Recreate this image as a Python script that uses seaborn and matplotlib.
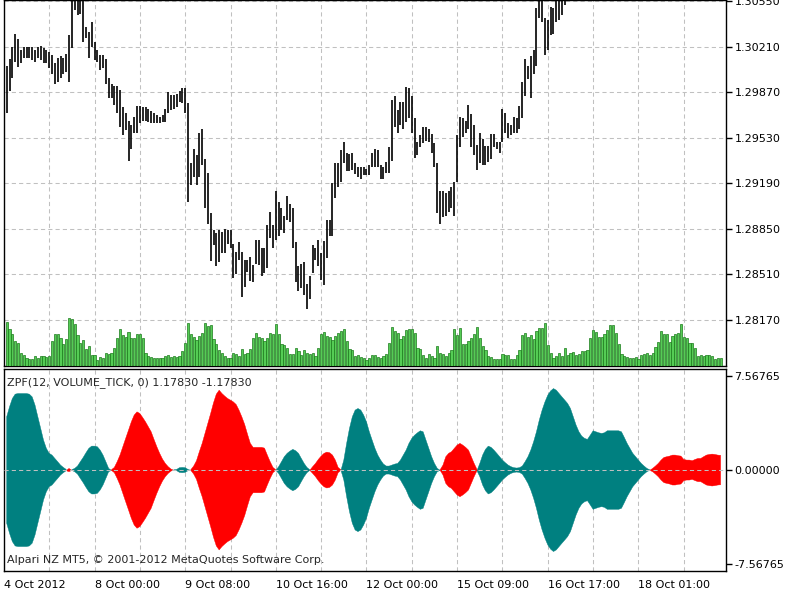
import numpy as np
import matplotlib
matplotlib.use("Agg")
import matplotlib.pyplot as plt
import seaborn as sns

nan = np.nan

# hourly bars, GBPUSD-like price (off-chart bars are nan)
high = [
    1.3007, 1.3012, 1.3021, 1.3031, 1.3027, 1.3019, 1.3021, 1.3021, 1.3021, 1.3021,
    1.3019, 1.3021, 1.3022, 1.3020, 1.3019, 1.3017, 1.3015, 1.3009, 1.3013, 1.3014,
    1.3013, 1.3016, 1.3030, 1.3062, 1.3063, 1.3060, 1.3062, 1.3059, 1.3036, 1.3032,
    1.3040, 1.3025, 1.3019, 1.3015, 1.3015, 1.3012, 1.2998, 1.2993, 1.2992, 1.2992,
    1.2989, 1.2976, 1.2972, 1.2966, 1.2963, 1.2969, 1.2977, 1.2977, 1.2976, 1.2976,
    1.2975, 1.2973, 1.2972, 1.2970, 1.2969, 1.2970, 1.2975, 1.2987, 1.2985, 1.2985,
    1.2986, 1.2988, 1.2990, 1.2990, 1.2979, 1.2934, 1.2945, 1.2940, 1.2957, 1.2960,
    1.2937, 1.2927, 1.2897, 1.2884, 1.2882, 1.2884, 1.2883, 1.2885, 1.2884, 1.2884,
    1.2874, 1.2868, 1.2875, 1.2868, 1.2862, 1.2862, 1.2864, 1.2858, 1.2877, 1.2877,
    1.2871, 1.2871, 1.2888, 1.2898, 1.2888, 1.2913, 1.2905, 1.2901, 1.2895, 1.2910,
    1.2904, 1.2901, 1.2875, 1.2857, 1.2859, 1.2860, 1.2844, 1.2850, 1.2873, 1.2871,
    1.2877, 1.2867, 1.2876, 1.2892, 1.2892, 1.2919, 1.2934, 1.2934, 1.2944, 1.2950,
    1.2942, 1.2941, 1.2942, 1.2934, 1.2931, 1.2931, 1.2931, 1.2930, 1.2933, 1.2942,
    1.2945, 1.2944, 1.2933, 1.2931, 1.2935, 1.2946, 1.2981, 1.2984, 1.2974, 1.2980,
    1.2980, 1.2991, 1.2990, 1.2984, 1.2968, 1.2950, 1.2955, 1.2961, 1.2961, 1.2960,
    1.2956, 1.2949, 1.2934, 1.2913, 1.2913, 1.2912, 1.2913, 1.2916, 1.2920, 1.2955,
    1.2969, 1.2968, 1.2966, 1.2978, 1.2971, 1.2963, 1.2948, 1.2957, 1.2952, 1.2947,
    1.2947, 1.2956, 1.2956, 1.2950, 1.2950, 1.2975, 1.2972, 1.2964, 1.2963, 1.2969,
    1.2968, 1.2977, 1.2995, 1.3012, 1.3007, 1.3014, 1.3019, 1.3050, 1.3060, 1.3058,
    1.3043, 1.3041, 1.3051, 1.3050, 1.3055, 1.3057, 1.3060, 1.3063,
] + [nan] * 44 + [1.3068] + [nan] * 10

low = [
    1.2972, 1.2988, 1.2998, 1.3010, 1.3006, 1.3009, 1.3013, 1.3013, 1.3013, 1.3011,
    1.3010, 1.3013, 1.3011, 1.3009, 1.3009, 1.3005, 1.3001, 1.2993, 1.2995, 1.2998,
    1.3001, 1.3002, 1.2995, 1.3020, 1.3049, 1.3045, 1.3046, 1.3025, 1.3028, 1.3013,
    1.3021, 1.3011, 1.3010, 1.3004, 1.3005, 1.2993, 1.2983, 1.2983, 1.2978, 1.2972,
    1.2961, 1.2955, 1.2959, 1.2936, 1.2945, 1.2957, 1.2957, 1.2964, 1.2966, 1.2966,
    1.2965, 1.2964, 1.2964, 1.2964, 1.2964, 1.2965, 1.2965, 1.2972, 1.2974, 1.2975,
    1.2976, 1.2980, 1.2979, 1.2972, 1.2905, 1.2918, 1.2924, 1.2918, 1.2924, 1.2933,
    1.2901, 1.2889, 1.2861, 1.2873, 1.2857, 1.2860, 1.2867, 1.2867, 1.2874, 1.2871,
    1.2848, 1.2851, 1.2862, 1.2834, 1.2842, 1.2853, 1.2846, 1.2845, 1.2859, 1.2858,
    1.2850, 1.2852, 1.2856, 1.2878, 1.2871, 1.2877, 1.2880, 1.2884, 1.2882, 1.2892,
    1.2890, 1.2871, 1.2845, 1.2839, 1.2841, 1.2836, 1.2825, 1.2833, 1.2852, 1.2862,
    1.2857, 1.2847, 1.2843, 1.2863, 1.2880, 1.2880, 1.2908, 1.2916, 1.2920, 1.2934,
    1.2928, 1.2928, 1.2929, 1.2926, 1.2924, 1.2922, 1.2925, 1.2925, 1.2925, 1.2931,
    1.2931, 1.2931, 1.2922, 1.2922, 1.2927, 1.2927, 1.2936, 1.2961, 1.2957, 1.2963,
    1.2960, 1.2965, 1.2968, 1.2957, 1.2938, 1.2940, 1.2946, 1.2949, 1.2951, 1.2950,
    1.2942, 1.2931, 1.2897, 1.2889, 1.2894, 1.2895, 1.2898, 1.2901, 1.2895, 1.2920,
    1.2946, 1.2954, 1.2957, 1.2960, 1.2946, 1.2940, 1.2929, 1.2934, 1.2933, 1.2933,
    1.2935, 1.2937, 1.2946, 1.2945, 1.2942, 1.2950, 1.2957, 1.2953, 1.2955, 1.2957,
    1.2957, 1.2960, 1.2968, 1.2984, 1.2997, 1.2983, 1.3001, 1.3007, 1.3043, 1.3040,
    1.3015, 1.3019, 1.3030, 1.3031, 1.3040, 1.3041, 1.3045, 1.3052,
] + [nan] * 44 + [1.3055] + [nan] * 10

volume = [
    44, 37, 32, 25, 23, 13, 11, 8, 7, 7, 10, 8, 10, 10, 9, 10, 25, 32, 32, 28,
    22, 27, 48, 47, 42, 31, 23, 26, 17, 20, 11, 11, 6, 9, 8, 13, 12, 13, 18, 28,
    37, 31, 29, 34, 28, 28, 32, 32, 28, 13, 10, 9, 8, 8, 8, 8, 10, 11, 9, 10,
    9, 10, 15, 23, 43, 32, 29, 26, 30, 33, 43, 40, 41, 27, 22, 16, 13, 10, 8, 8,
    13, 12, 10, 17, 12, 13, 17, 28, 33, 29, 28, 25, 28, 33, 32, 42, 32, 22, 21, 18,
    12, 12, 18, 15, 11, 16, 13, 12, 13, 10, 18, 32, 34, 30, 29, 26, 30, 33, 35, 37,
    25, 17, 16, 10, 11, 9, 8, 6, 8, 11, 11, 9, 8, 10, 12, 23, 39, 35, 33, 27,
    30, 36, 37, 37, 33, 18, 17, 11, 8, 12, 10, 8, 20, 13, 12, 10, 13, 16, 37, 31,
    38, 22, 22, 25, 28, 32, 39, 28, 20, 16, 10, 9, 7, 7, 7, 12, 11, 11, 7, 7,
    11, 16, 31, 33, 29, 31, 27, 35, 38, 38, 43, 21, 13, 8, 10, 13, 10, 18, 11, 13,
    14, 11, 12, 15, 15, 16, 28, 36, 34, 29, 29, 32, 36, 41, 41, 33, 22, 12, 10, 9,
    8, 8, 9, 7, 11, 12, 13, 11, 13, 19, 24, 35, 32, 32, 24, 30, 32, 33, 42, 29,
    28, 23, 23, 18, 10, 11, 10, 11, 11, 10, 7, 8, 8,
]

# ZPF(12, VOLUME_TICK): positive = teal, negative = red, drawn symmetric
zpf = [
    4.27, 5.07, 5.74, 6.09, 6.14, 6.14, 6.14, 6.14, 6.09, 5.87,
    5.21, 4.27, 3.34, 2.40, 1.74, 1.34, 1.20, 0.93, 0.67, 0.40,
    0.21, 0.05, -0.13, 0.03, 0.13, 0.32, 0.67, 1.01, 1.39, 1.74,
    1.92, 1.92, 1.87, 1.60, 1.20, 0.67, 0.13, -0.03, -0.21, -0.67,
    -1.20, -1.87, -2.54, -3.20, -3.87, -4.41, -4.67, -4.54, -4.22, -3.87,
    -3.47, -3.07, -2.46, -1.87, -1.34, -0.88, -0.53, -0.27, -0.08, 0.02,
    0.05, 0.19, 0.21, 0.19, 0.05, -0.03, -0.32, -0.75, -1.47, -2.14,
    -2.94, -3.74, -4.54, -5.39, -6.09, -6.41, -6.14, -5.93, -5.74, -5.61,
    -5.47, -5.26, -4.81, -4.27, -3.66, -2.88, -2.14, -1.82, -1.82, -1.82,
    -1.82, -1.76, -1.20, -0.67, -0.21, -0.02, 0.27, 0.67, 1.07, 1.34,
    1.52, 1.66, 1.55, 1.34, 0.93, 0.53, 0.21, 0.02, -0.27, -0.53,
    -0.85, -1.12, -1.34, -1.44, -1.39, -1.20, -0.80, -0.21, -0.02, 0.80,
    2.14, 3.34, 4.27, 4.81, 4.94, 4.81, 4.41, 3.87, 3.07, 2.40,
    1.74, 1.20, 0.80, 0.48, 0.32, 0.32, 0.40, 0.48, 0.53, 0.80,
    1.20, 1.60, 2.14, 2.54, 2.80, 2.99, 3.15, 3.07, 2.40, 1.74,
    1.07, 0.53, 0.13, -0.02, -0.40, -1.07, -1.34, -1.47, -1.74, -2.00,
    -2.14, -2.00, -1.82, -1.60, -1.07, -0.53, -0.05, 0.53, 1.20, 1.66,
    1.92, 1.82, 1.60, 1.34, 1.07, 0.80, 0.59, 0.40, 0.27, 0.19,
    0.16, 0.19, 0.32, 0.67, 1.07, 1.60, 2.27, 3.07, 4.01, 4.81,
    5.47, 6.01, 6.35, 6.54, 6.41, 6.14, 5.87, 5.61, 5.34, 4.94,
    4.27, 3.60, 3.07, 2.72, 2.54, 2.46, 2.80, 3.15, 3.07, 2.99,
    2.94, 2.99, 3.15, 3.15, 3.15, 3.15, 3.15, 3.07, 2.62, 2.14,
    1.74, 1.34, 1.07, 0.80, 0.53, 0.32, 0.13, 0.02, -0.13, -0.32,
    -0.53, -0.80, -1.01, -1.07, -1.12, -1.20, -1.20, -1.15, -1.12, -0.85,
    -0.80, -0.80, -0.75, -0.85, -0.93, -0.93, -1.07, -1.20, -1.25, -1.28,
    -1.25, -1.20, -1.18,
]

price_ticks = [1.28170, 1.28510, 1.28850, 1.29190, 1.29530, 1.29870, 1.30210, 1.30550]
zpf_ticks = [-7.56765, 0.0, 7.56765]
date_pos = [31, 63, 95, 127, 159, 191, 223]
date_labels = ["8 Oct 00:00", "9 Oct 08:00", "10 Oct 16:00", "12 Oct 00:00",
               "15 Oct 09:00", "16 Oct 17:00", "18 Oct 01:00"]
first_label = "4 Oct 2012"
zpf_title = "ZPF(12, VOLUME_TICK, 0) 1.17830 -1.17830"
copyright_text = "Alpari NZ MT5, \u00a9 2001-2012 MetaQuotes Software Corp."

sns.set_style("white")
plt.rcParams["font.family"] = ["DejaVu Sans"]
plt.rcParams["font.size"] = 8

idx = np.arange(len(zpf))
grid_x = np.arange(15, 240, 16)
grid_kw = dict(color="#c0c0c0", lw=0.75, ls=(0, (4, 3)))
teal, red = "#008080", "#ff0000"

fig = plt.figure(figsize=(8, 6), dpi=100)
ax = fig.add_axes([0.005, 0.39, 0.9025, 0.61])
vax = fig.add_axes([0.005, 0.39, 0.9025, 0.61], sharex=ax)
zax = fig.add_axes([0.005, 0.049, 0.9025, 0.336], sharex=ax)

# price panel
for gx in grid_x:
    ax.axvline(gx, zorder=0, **grid_kw)
for gy in price_ticks:
    ax.axhline(gy, zorder=0, **grid_kw)
ax.vlines(idx, low, high, color="black", lw=1.2, zorder=2)
ax.set_xlim(-0.95, 253.9)
ax.set_ylim(1.27826, 1.30561)
ax.yaxis.tick_right()
ax.set_yticks(price_ticks)
ax.set_yticklabels([f"{t:.5f}" for t in price_ticks])
ax.tick_params(axis="y", length=4, width=1, pad=2, labelsize=8, colors="black")
ax.tick_params(axis="x", bottom=False, labelbottom=False)

# tick volume histogram (units of chart pixels)
vax.bar(idx, volume, width=0.75, color="#55cc55", edgecolor="#1a7a1a", lw=0.5)
vax.set_ylim(0, 366)
vax.patch.set_alpha(0)
vax.axis("off")

# ZPF panel
for gx in grid_x:
    zax.axvline(gx, zorder=0, **grid_kw)
z = np.array(zpf)
amp = np.abs(z)
pos = z >= 0
zax.fill_between(idx, -amp, amp, where=pos, interpolate=True, color=teal,
                 lw=0.3, edgecolor=teal, zorder=2)
zax.fill_between(idx, -amp, amp, where=~pos, interpolate=True, color=red,
                 lw=0.3, edgecolor=red, zorder=2)
zax.axhline(0, zorder=3, **grid_kw)
zax.set_ylim(-8.07, 8.11)
zax.yaxis.tick_right()
zax.set_yticks(zpf_ticks)
zax.set_yticklabels([f"{t:.5f}" for t in zpf_ticks])
zax.tick_params(axis="y", length=4, width=1, pad=2, labelsize=8, colors="black")
zax.set_xticks([-0.95] + date_pos)
zax.set_xticklabels([first_label] + date_labels)
zax.tick_params(axis="x", length=4, width=1, pad=3, labelsize=8, colors="black")
for lab in zax.get_xticklabels():
    lab.set_ha("left")
zax.text(0.004, 0.935, zpf_title, transform=zax.transAxes, va="center",
         ha="left", fontsize=8)
zax.text(0.004, 0.052, copyright_text, transform=zax.transAxes, va="center",
         ha="left", fontsize=8)

for a in (ax, zax):
    for s in a.spines.values():
        s.set_color("black")
        s.set_linewidth(1.0)
        s.set_visible(True)

fig.savefig("out.png", dpi=100, facecolor="white")
